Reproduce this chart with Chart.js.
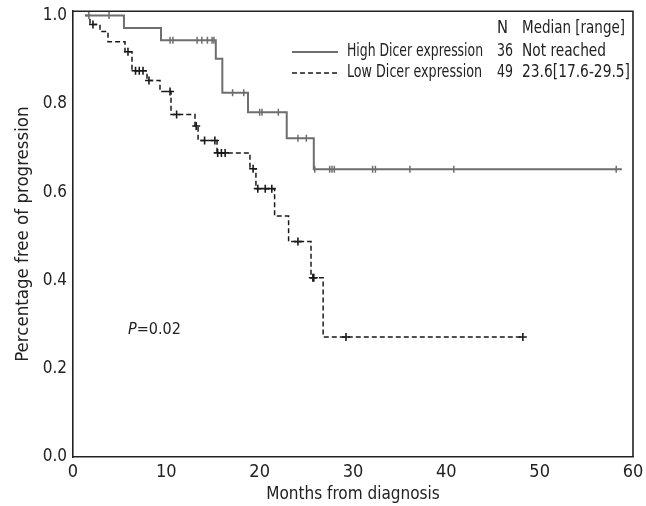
<!DOCTYPE html>
<html>
<head>
<meta charset="utf-8">
<script src="https://cdn.jsdelivr.net/npm/chart.js@4/dist/chart.umd.min.js"></script>
<style>
  html, body { margin: 0; padding: 0; background: #fff; }
  #wrap { width: 646px; height: 506px; position: relative; }
</style>
</head>
<body>
<div id="wrap"><canvas id="c" width="646" height="506"></canvas></div>
<script>
// ---- data ----
const monthTicks = [0, 10, 20, 30, 40, 50, 60];
const survivalTicks = [0.0, 0.2, 0.4, 0.6, 0.8, 1.0];

const seriesNames = ["High Dicer expression", "Low Dicer expression"];
const seriesN = ["36", "49"];
const seriesMedian = ["Not reached", "23.6[17.6-29.5]"];
const legendHeader = ["N", "Median [range]"];

const highStartMonth = 1.3;
const highEndMonth = 58.8;
const highEventMonths   = [5.46, 9.43, 15.3, 16.0, 18.75, 22.9, 25.8];
const highEventSurvival = [0.972, 0.944, 0.902, 0.825, 0.781, 0.722, 0.652];
const highCensorMonths  = [1.7, 3.86, 10.4, 10.7, 13.3, 13.8, 14.4, 14.9, 15.1, 17.1, 18.3,
                           20.0, 20.25, 22.0, 24.1, 25.0, 25.9, 27.5, 27.75, 28.0,
                           32.1, 32.4, 36.1, 40.8, 58.2];

const lowStartMonth = 1.3;
const lowEndMonth = 48.2;
const lowEventMonths   = [1.82, 2.89, 3.75, 5.57, 6.32, 7.93, 9.32, 10.5, 13.07, 13.4, 15.43,
                          18.96, 19.6, 21.6, 23.1, 25.5, 26.8];
const lowEventSurvival = [0.980, 0.964, 0.941, 0.918, 0.875, 0.853, 0.828, 0.776, 0.750, 0.717, 0.689,
                          0.653, 0.608, 0.546, 0.488, 0.406, 0.272];
const lowCensorMonths  = [2.14, 5.89, 6.7, 7.1, 7.5, 8.14, 10.4, 11.1, 13.2, 14.1, 15.2,
                          15.5, 15.9, 16.3, 19.3, 19.8, 20.6, 21.3, 24.1, 25.7, 25.8,
                          29.25, 48.2];

const pLabel = "P";
const pValueText = "=0.02";

// ---- helpers building the chart's tables from the arrays ----
function survivalAt(times, surv, t) {
  let s = 1.0;
  for (let i = 0; i < times.length; i++) if (times[i] <= t) s = surv[i];
  return s;
}
function stepLine(start, times, surv, end) {
  const pts = [{ x: start, y: 1.0 }];
  times.forEach((t, i) => pts.push({ x: t, y: surv[i] }));
  pts.push({ x: end, y: surv[surv.length - 1] });
  return pts;
}
function censorPts(cens, times, surv) {
  return cens.map(t => ({ x: t, y: survivalAt(times, surv, t) }));
}

const FONT = "'Liberation Sans Narrow', 'DejaVu Sans Condensed', 'Liberation Sans', sans-serif";
const HIGH_COLOR = '#6e6e6e';
const LOW_COLOR = '#1a1a1a';
const TEXT_COLOR = '#222';

const framePlugin = {
  id: 'frameAndLegend',
  afterDraw(chart) {
    const { ctx, chartArea: a } = chart;
    ctx.save();
    // top and right frame
    ctx.strokeStyle = TEXT_COLOR;
    ctx.lineWidth = 1.6;
    ctx.beginPath();
    ctx.moveTo(a.left, a.top);
    ctx.lineTo(a.right, a.top);
    ctx.lineTo(a.right, a.bottom);
    ctx.stroke();

    // legend table
    ctx.fillStyle = TEXT_COLOR;
    ctx.font = '17px ' + FONT;
    ctx.textBaseline = 'middle';
    ctx.textAlign = 'left';
    const colLine0 = 292, colLine1 = 338;
    const colName = 347, colN = 497, colMed = 522;
    const headerY = 29;
    const rows = [52, 73];
    ctx.fillText(legendHeader[0], colN, headerY, 11);
    ctx.fillText(legendHeader[1], colMed, headerY, 103);
    for (let i = 0; i < 2; i++) {
      ctx.fillText(seriesNames[i], colName, rows[i], i === 0 ? 136 : 135);
      ctx.fillText(seriesN[i], colN, rows[i], 16);
      ctx.fillText(seriesMedian[i], colMed, rows[i], i === 0 ? 84 : 108);
    }
    // sample lines
    ctx.lineWidth = 2;
    ctx.strokeStyle = HIGH_COLOR;
    ctx.beginPath(); ctx.moveTo(colLine0, rows[0]); ctx.lineTo(colLine1, rows[0]); ctx.stroke();
    ctx.lineWidth = 1.5;
    ctx.strokeStyle = LOW_COLOR;
    ctx.setLineDash([5, 3]);
    ctx.beginPath(); ctx.moveTo(colLine0, rows[1]); ctx.lineTo(colLine1, rows[1]); ctx.stroke();
    ctx.setLineDash([]);

    // P value
    ctx.font = 'italic 16px ' + FONT;
    ctx.fillText(pLabel, 128, 330);
    const pw = ctx.measureText(pLabel).width;
    ctx.font = '16px ' + FONT;
    ctx.fillText(pValueText, 128 + pw, 330);
    ctx.restore();
  }
};

new Chart(document.getElementById('c'), {
  type: 'scatter',
  data: {
    datasets: [
      {
        label: seriesNames[0],
        data: stepLine(highStartMonth, highEventMonths, highEventSurvival, highEndMonth),
        showLine: true, stepped: true,
        borderColor: HIGH_COLOR, borderWidth: 2, pointRadius: 0, fill: false
      },
      {
        label: seriesNames[0] + ' censored',
        data: censorPts(highCensorMonths, highEventMonths, highEventSurvival),
        showLine: false, pointStyle: 'line', rotation: 90, pointRadius: 3.5,
        borderColor: HIGH_COLOR, pointBorderColor: HIGH_COLOR, pointBorderWidth: 1.5
      },
      {
        label: seriesNames[1],
        data: stepLine(lowStartMonth, lowEventMonths, lowEventSurvival, lowEndMonth),
        showLine: true, stepped: true, borderDash: [5, 3],
        borderColor: LOW_COLOR, borderWidth: 1.5, pointRadius: 0, fill: false
      },
      {
        label: seriesNames[1] + ' censored',
        data: censorPts(lowCensorMonths, lowEventMonths, lowEventSurvival),
        showLine: false, pointStyle: 'cross', pointRadius: 4,
        borderColor: LOW_COLOR, pointBorderColor: LOW_COLOR, pointBorderWidth: 1.6
      }
    ]
  },
  options: {
    responsive: false,
    animation: false,
    events: [],
    layout: { padding: { top: 11, right: 13, left: 0, bottom: 0 } },
    plugins: { legend: { display: false }, tooltip: { enabled: false } },
    scales: {
      x: {
        type: 'linear', min: 0, max: 60,
        afterBuildTicks: s => { s.ticks = monthTicks.map(v => ({ value: v })); },
        afterFit: s => { s.height = 49; },
        grid: { display: false, drawOnChartArea: false, drawTicks: true, tickLength: 5, tickColor: TEXT_COLOR },
        border: { display: true, color: TEXT_COLOR, width: 1.6 },
        ticks: { color: TEXT_COLOR, font: { family: FONT, size: 18 }, padding: 0, maxRotation: 0,
                 callback: v => String(v) },
        title: { display: true, text: 'Months from diagnosis', color: TEXT_COLOR,
                 font: { family: FONT, size: 17 }, padding: { top: 0, bottom: 1 } }
      },
      y: {
        type: 'linear', min: 0, max: 1.01,
        afterBuildTicks: s => { s.ticks = survivalTicks.map(v => ({ value: v })); },
        afterFit: s => { s.width = 73; },
        grid: { display: false, drawOnChartArea: false, drawTicks: true, tickLength: 5, tickColor: TEXT_COLOR },
        border: { display: true, color: TEXT_COLOR, width: 1.6 },
        ticks: { color: TEXT_COLOR, font: { family: FONT, size: 17 }, padding: 1,
                 callback: v => Number(v).toFixed(1) },
        title: { display: true, text: 'Percentage free of progression', color: TEXT_COLOR,
                 font: { family: FONT, size: 18.5 }, padding: { top: 12, bottom: 0 } }
      }
    }
  },
  plugins: [framePlugin]
});
</script>
</body>
</html>
